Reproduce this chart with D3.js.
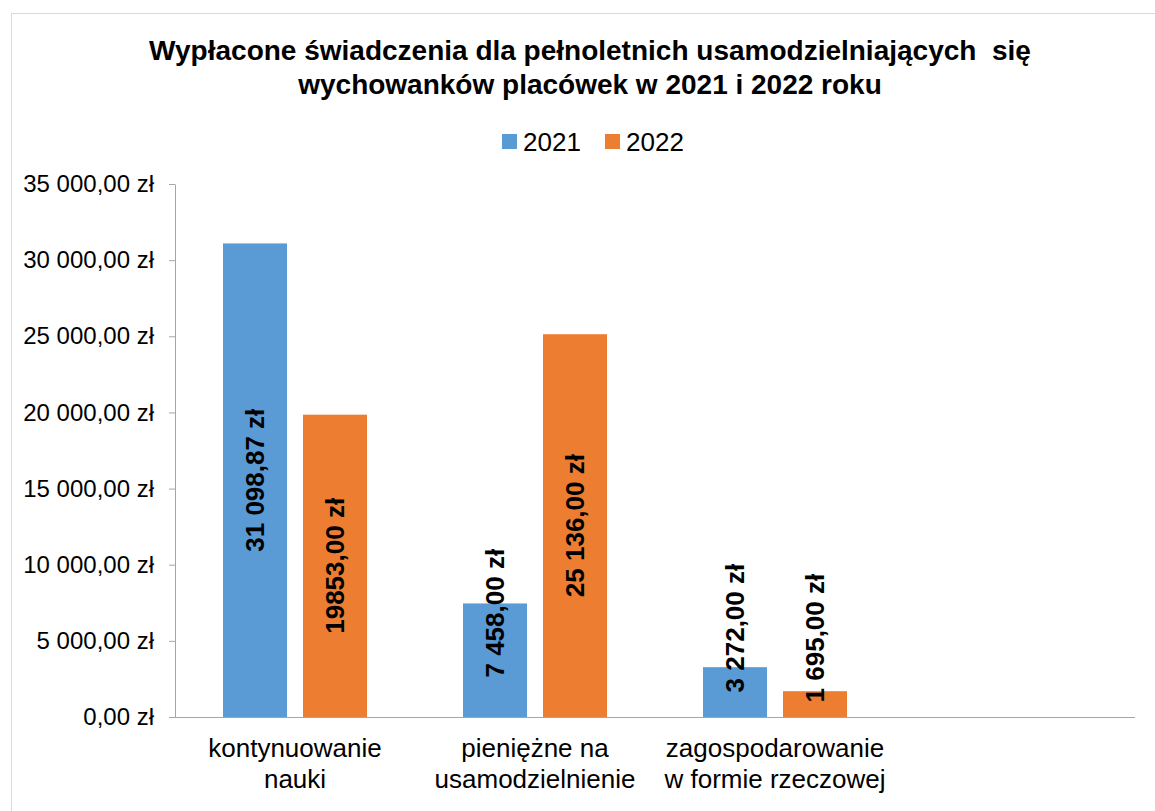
<!DOCTYPE html>
<html>
<head>
<meta charset="utf-8">
<script src="https://cdn.jsdelivr.net/npm/d3@7"></script>
<style>
  body { margin: 0; background: #fff; }
  svg { display: block; font-family: "Liberation Sans", Arial, sans-serif; }
</style>
</head>
<body>
<svg id="chart"></svg>
<script>
// data
var categories = [
  ['kontynuowanie', 'nauki'],
  ['pieniężne na', 'usamodzielnienie'],
  ['zagospodarowanie', 'w formie rzeczowej'],
  ['']
];
var series = ['2021', '2022'];
var values2021 = [31098.87, 7458, 3272];
var values2022 = [19853, 25136, 1695];
var labels2021 = ['31 098,87 zł', '7 458,00 zł', '3 272,00 zł'];
var labels2022 = ['19853,00 zł', '25 136,00 zł', '1 695,00 zł'];
var yTicks = [0, 5000, 10000, 15000, 20000, 25000, 30000, 35000];

var colors = { '2021': '#5b9bd5', '2022': '#ed7d31' };
// labels that don't fit were moved up by hand in the original (px)
var labelNudge = { '2021': [0, -47, -64], '2022': [0, 0, -66] };

var width = 1155, height = 811;
var margin = { top: 184, right: 20, bottom: 94, left: 175 };

var svg = d3.select('#chart')
  .attr('width', width)
  .attr('height', height);

svg.append('rect')
  .attr('width', width).attr('height', height)
  .attr('fill', '#fff');

// chart area frame (runs off the right / bottom edge)
svg.append('rect')
  .attr('x', 11.5).attr('y', 13.5)
  .attr('width', 1300).attr('height', 900)
  .attr('fill', 'none')
  .attr('stroke', '#d9d9d9');

var pl = d3.formatLocale({ decimal: ',', thousands: ' ', grouping: [3], currency: ['', ' zł'] });
var fmt = pl.format('$,.2f');

var x0 = d3.scaleBand()
  .domain(d3.range(categories.length))
  .range([margin.left, 1135])
  .padding(0);

// excel style: gap width 150%, overlap -25%
var gapWidth = 1.5, overlap = -0.25;
var barW = x0.bandwidth() / (series.length + gapWidth - overlap * (series.length - 1));
var x1 = d3.scaleBand()
  .domain(series)
  .range([barW * gapWidth / 2, x0.bandwidth() - barW * gapWidth / 2])
  .paddingInner(-overlap * barW / (barW * (1 - overlap)));

var y = d3.scaleLinear()
  .domain([0, 35000])
  .range([717, margin.top]);

// title
var title = svg.append('text')
  .attr('text-anchor', 'middle')
  .attr('font-weight', 'bold')
  .attr('font-size', 28)
  .attr('fill', '#000');
title.append('tspan').attr('x', 590).attr('y', 60)
  .text('Wypłacone świadczenia dla pełnoletnich usamodzielniających  się')
  .attr('xml:space', 'preserve')
  .style('white-space', 'pre');
title.append('tspan').attr('x', 590).attr('y', 94)
  .text('wychowanków placówek w 2021 i 2022 roku');

// legend
var legend = svg.append('g').attr('transform', 'translate(502,134)');
var lg = legend.selectAll('g').data(series).enter().append('g')
  .attr('transform', function(d, i) { return 'translate(' + (i * 103) + ',0)'; });
lg.append('rect')
  .attr('width', 15).attr('height', 15)
  .attr('fill', function(d) { return colors[d]; });
lg.append('text')
  .attr('x', 21).attr('y', 17)
  .attr('font-size', 26)
  .attr('fill', '#000')
  .text(function(d) { return d; });

// y axis
var yAxis = svg.append('g')
  .attr('transform', 'translate(' + margin.left + ',0)')
  .call(d3.axisLeft(y).tickValues(yTicks).tickFormat(fmt).tickSize(6).tickSizeOuter(0).tickPadding(15));
yAxis.select('.domain').attr('stroke', '#a6a6a6');
yAxis.selectAll('.tick line').attr('stroke', '#a6a6a6');
yAxis.selectAll('.tick text')
  .attr('font-size', 24)
  .attr('font-family', '"Liberation Sans", Arial, sans-serif')
  .attr('fill', '#000');

// bars
var rows = [];
series.forEach(function(s) {
  var vals = s === '2021' ? values2021 : values2022;
  var labs = s === '2021' ? labels2021 : labels2022;
  vals.forEach(function(v, i) {
    rows.push({ cat: i, s: s, v: v, label: labs[i], nudge: labelNudge[s][i] });
  });
});

svg.append('g').selectAll('rect').data(rows).enter().append('rect')
  .attr('x', function(d) { return x0(d.cat) + x1(d.s); })
  .attr('y', function(d) { return y(d.v); })
  .attr('width', x1.bandwidth())
  .attr('height', function(d) { return y(0) - y(d.v); })
  .attr('fill', function(d) { return colors[d.s]; });

// x axis line (no tick marks)
svg.append('line')
  .attr('x1', x0.range()[0]).attr('x2', x0.range()[1])
  .attr('y1', y(0) + 0.5).attr('y2', y(0) + 0.5)
  .attr('stroke', '#a6a6a6');

// data labels, rotated
svg.append('g').selectAll('text').data(rows).enter().append('text')
  .attr('transform', function(d) {
    var cx = x0(d.cat) + x1(d.s) + x1.bandwidth() / 2;
    var cy = (y(d.v) + y(0)) / 2 + d.nudge;
    return 'translate(' + cx + ',' + cy + ') rotate(-90)';
  })
  .attr('text-anchor', 'middle')
  .attr('dy', '0.36em')
  .attr('font-size', 26)
  .attr('font-weight', 'bold')
  .attr('fill', '#000')
  .text(function(d) { return d.label; });

// category labels
var cl = svg.append('g').selectAll('text').data(categories).enter().append('text')
  .attr('text-anchor', 'middle')
  .attr('font-size', 26)
  .attr('fill', '#000');
cl.selectAll('tspan').data(function(d, i) { return d.map(function(t) { return { t: t, i: i }; }); })
  .enter().append('tspan')
  .attr('x', function(d) { return x0(d.i) + x0.bandwidth() / 2; })
  .attr('y', function(d, j) { return 757 + j * 31; })
  .text(function(d) { return d.t; });
</script>
</body>
</html>
